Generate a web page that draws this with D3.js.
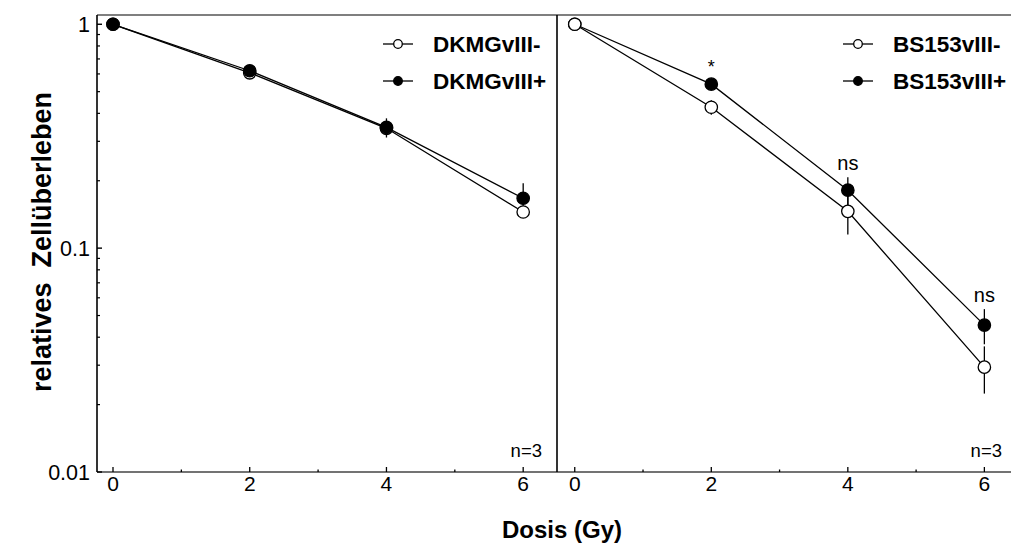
<!DOCTYPE html>
<html>
<head>
<meta charset="utf-8">
<script src="https://cdn.jsdelivr.net/npm/d3@7"></script>
<style>
  html, body { margin: 0; padding: 0; background: #fff; }
  svg { display: block; }
  text { font-family: "Liberation Sans", Arial, sans-serif; fill: #000; }
</style>
</head>
<body>
<svg id="chart" width="1011" height="545"></svg>
<script>
// ---------- data ----------
const doses = [0, 2, 4, 6];
const xTicks = [0, 1, 2, 3, 4, 5, 6];
const xTickLabels = ["0", "2", "4", "6"];
const yTickLabels = ["0.01", "0.1", "1"];

const dkmgNegMean = [1.0, 0.607, 0.343, 0.145];
const dkmgNegSd   = [0.0, 0.010, 0.015, 0.006];
const dkmgPosMean = [1.0, 0.620, 0.346, 0.167];
const dkmgPosSd   = [0.0, 0.012, 0.034, 0.028];

const bsNegMean = [1.0, 0.426, 0.146, 0.0294];
const bsNegSd   = [0.0, 0.032, 0.031, 0.0070];
const bsPosMean = [1.0, 0.540, 0.1815, 0.0453];
const bsPosSd   = [0.0, 0.020, 0.026, 0.0081];

const sigLabels = ["", "*", "ns", "ns"];

const legendLeft = ["DKMGvIII-", "DKMGvIII+"];
const legendRight = ["BS153vIII-", "BS153vIII+"];

// ---------- layout ----------
const svg = d3.select("#chart");
const plotTop = 15, plotBottom = 472;
const y = d3.scaleLog().domain([0.01, 1.1]).range([plotBottom, plotTop]);

const panels = [
  { x: d3.scaleLinear().domain([-0.234, 6.48]).range([97, 556]),
    series: [
      { mean: dkmgNegMean, sd: dkmgNegSd, filled: false, name: legendLeft[0] },
      { mean: dkmgPosMean, sd: dkmgPosSd, filled: true,  name: legendLeft[1] }
    ],
    legendX: 383, sig: null },
  { x: d3.scaleLinear().domain([-0.26, 6.39]).range([557, 1011]),
    series: [
      { mean: bsPosMean, sd: bsPosSd, filled: true,  name: legendRight[1] },
      { mean: bsNegMean, sd: bsNegSd, filled: false, name: legendRight[0] }
    ],
    legendX: 843, sig: sigLabels }
];

// frame lines
svg.append("line").attr("x1", 97).attr("x2", 1011).attr("y1", plotTop).attr("y2", plotTop)
  .attr("stroke", "#555").attr("stroke-width", 1.7);
svg.append("line").attr("x1", 97).attr("x2", 1011).attr("y1", plotBottom).attr("y2", plotBottom)
  .attr("stroke", "#444").attr("stroke-width", 1.6);
svg.append("line").attr("x1", 97).attr("x2", 97).attr("y1", plotTop).attr("y2", plotBottom)
  .attr("stroke", "#000").attr("stroke-width", 1.6);
svg.append("line").attr("x1", 557).attr("x2", 557).attr("y1", plotTop).attr("y2", plotBottom)
  .attr("stroke", "#000").attr("stroke-width", 1.6);

// y ticks (inward) on left axis
const yMajor = yTickLabels.map(Number);
const yMinor = [];
[0.01, 0.1].forEach(d => { for (let k = 2; k <= 9; k++) yMinor.push(d * k); });
const gy = svg.append("g");
gy.selectAll("line.minor").data(yMinor).join("line").attr("class", "minor")
  .attr("x1", 97).attr("x2", 100).attr("y1", d => y(d)).attr("y2", d => y(d))
  .attr("stroke", "#000").attr("stroke-width", 1.2);
gy.selectAll("line.major").data(yMajor).join("line").attr("class", "major")
  .attr("x1", 97).attr("x2", 102).attr("y1", d => y(d)).attr("y2", d => y(d))
  .attr("stroke", "#000").attr("stroke-width", 1.4);
gy.selectAll("text").data(yTickLabels).join("text")
  .attr("x", 90).attr("y", d => y(+d)).attr("dy", "0.36em")
  .attr("text-anchor", "end").attr("font-size", 21.5).text(d => d);

panels.forEach((p, pi) => {
  const x = p.x;
  // x ticks
  svg.append("g").selectAll("line").data(xTicks).join("line")
    .attr("x1", d => x(d)).attr("x2", d => x(d))
    .attr("y1", plotBottom).attr("y2", d => plotBottom - (d % 2 === 0 ? 5 : 2.5))
    .attr("stroke", "#000").attr("stroke-width", 1.3);
  svg.append("g").selectAll("text").data(xTickLabels).join("text")
    .attr("x", d => x(+d)).attr("y", 491)
    .attr("text-anchor", "middle").attr("font-size", 21).text(d => d);

  // lines
  const line = d3.line().x((d, i) => x(doses[i])).y(d => y(d));
  p.series.forEach(s => {
    svg.append("path").attr("d", line(s.mean)).attr("fill", "none")
      .attr("stroke", "#000").attr("stroke-width", 1.3);
  });
  // error bars
  p.series.forEach(s => {
    svg.append("g").selectAll("line").data(s.mean).join("line")
      .attr("x1", (d, i) => x(doses[i])).attr("x2", (d, i) => x(doses[i]))
      .attr("y1", (d, i) => y(d + s.sd[i])).attr("y2", (d, i) => y(Math.max(d - s.sd[i], 0.0101)))
      .attr("stroke", "#000").attr("stroke-width", 1.3);
  });
  // markers
  p.series.forEach(s => {
    svg.append("g").selectAll("circle").data(s.mean).join("circle")
      .attr("cx", (d, i) => x(doses[i])).attr("cy", d => y(d)).attr("r", 6.2)
      .attr("fill", s.filled ? "#000" : "#fff").attr("stroke", "#000").attr("stroke-width", 1.3);
  });

  // legend
  const leg = p.series.slice().sort((a, b) => (a.filled ? 1 : 0) - (b.filled ? 1 : 0));
  leg.forEach((s, i) => {
    const cy = 44 + i * 37;
    svg.append("line").attr("x1", p.legendX).attr("x2", p.legendX + 30)
      .attr("y1", cy).attr("y2", cy).attr("stroke", "#000").attr("stroke-width", 1.3);
    svg.append("circle").attr("cx", p.legendX + 15).attr("cy", cy).attr("r", 4.3)
      .attr("fill", s.filled ? "#000" : "#fff").attr("stroke", "#000").attr("stroke-width", 1.3);
    svg.append("text").attr("x", p.legendX + 50).attr("y", cy + 8)
      .attr("font-size", 22.5).attr("font-weight", "bold").text(s.name);
  });

  // n=3
  svg.append("text").attr("x", pi === 0 ? 542 : 1002).attr("y", 457)
    .attr("text-anchor", "end").attr("font-size", 18.5).text("n=3");

  // significance
  if (p.sig) {
    const s0 = p.series[0];
    p.sig.forEach((lab, i) => {
      if (!lab) return;
      const yy = y(s0.mean[i] + s0.sd[i]);
      svg.append("text").attr("x", x(doses[i]))
        .attr("y", lab === "*" ? y(s0.mean[i]) - 11 : yy - 7)
        .attr("text-anchor", "middle").attr("font-size", lab === "*" ? 18 : 20).text(lab);
    });
  }
});

// axis titles
svg.append("text").attr("x", 562).attr("y", 538).attr("text-anchor", "middle")
  .attr("font-size", 24).attr("font-weight", "bold").text("Dosis (Gy)");
svg.append("text").attr("transform", "translate(51,242) rotate(-90)")
  .attr("text-anchor", "middle").attr("font-size", 27).attr("font-weight", "bold")
  .attr("xml:space", "preserve").style("white-space", "pre")
  .text("relatives  Zellüberleben");
</script>
</body>
</html>
